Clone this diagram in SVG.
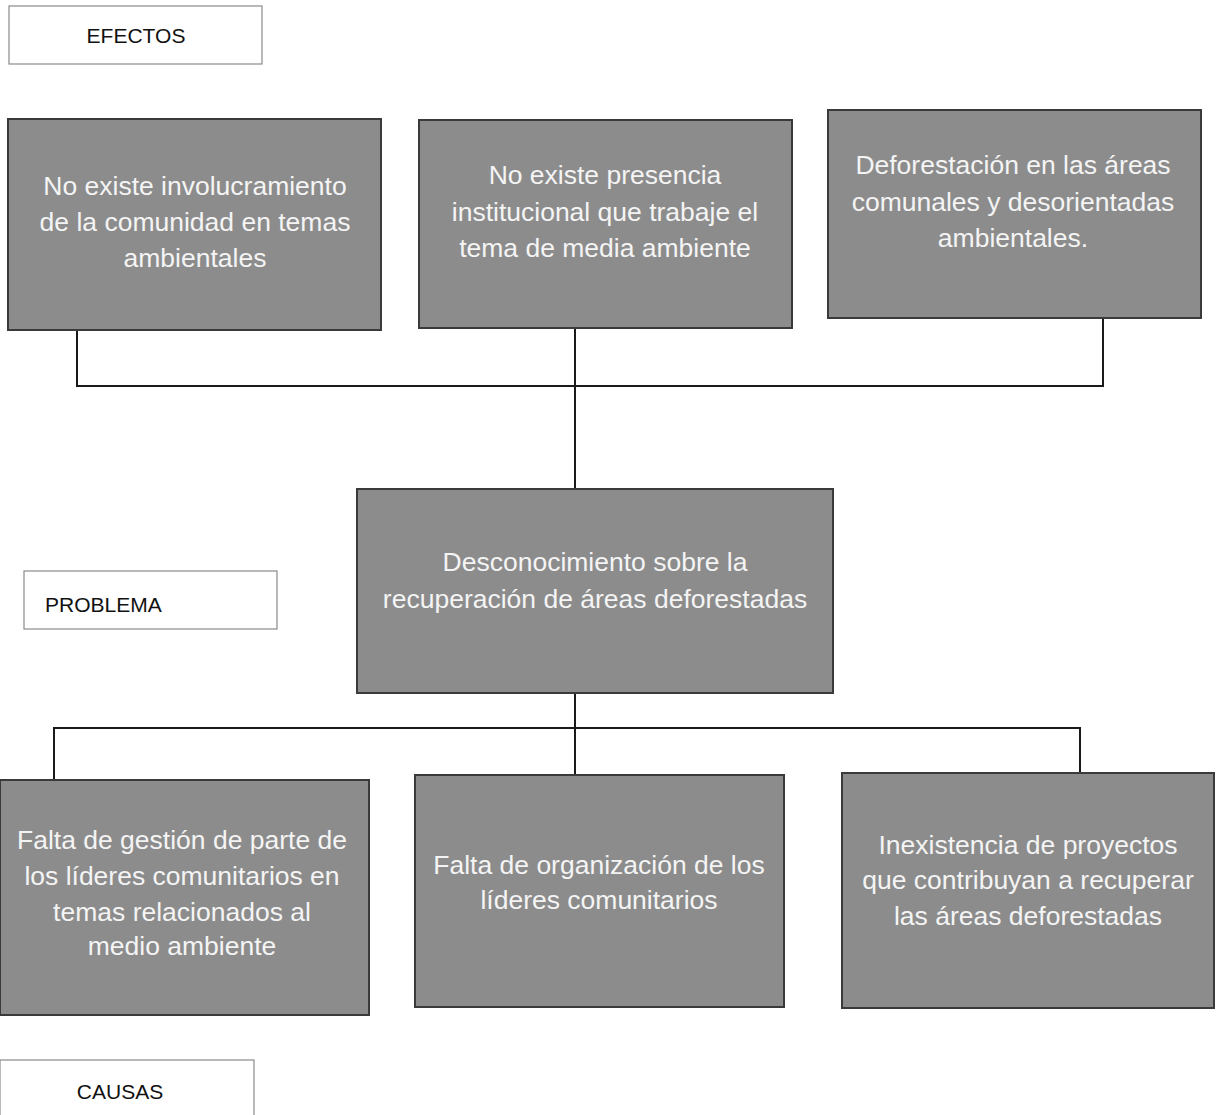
<svg xmlns="http://www.w3.org/2000/svg" width="1222" height="1115" viewBox="0 0 1222 1115">
<style>
.lbl{fill:#ffffff;stroke:#8a8a8a;stroke-width:1.2}
.lt{font-family:"Liberation Sans",Arial,sans-serif;font-size:21px;fill:#111}
.box{fill:#8c8c8c;stroke:#3a3a3a;stroke-width:2}
.bt{font-family:"Liberation Sans",Arial,sans-serif;font-size:26.5px;fill:#f4f4f4;text-anchor:middle}
.con{fill:none;stroke:#1a1a1a;stroke-width:2}
</style>
<rect width="1222" height="1115" fill="#ffffff"/>
<g id="label-efectos"><rect class="lbl" x="9" y="6" width="253" height="58"/><text class="lt" x="136" y="43" text-anchor="middle">EFECTOS</text></g>
<g id="label-problema"><rect class="lbl" x="24" y="571" width="253" height="58"/><text class="lt" x="45" y="612">PROBLEMA</text></g>
<g id="label-causas"><rect class="lbl" x="0" y="1060" width="254" height="60"/><text class="lt" x="120" y="1099" text-anchor="middle">CAUSAS</text></g>
<g id="connectors">
<path class="con" d="M77,330 V386 H1103 V318"/>
<path class="con" d="M575,328 V490"/>
<path class="con" d="M575,693 V775"/>
<path class="con" d="M54,783 V728 H1080 V775"/>
</g>
<g id="efecto1"><rect class="box" x="8" y="119" width="373" height="211"/>
<text class="bt" x="195" y="195">No existe involucramiento</text>
<text class="bt" x="195" y="231">de la comunidad en temas</text>
<text class="bt" x="195" y="267">ambientales</text></g>
<g id="efecto2"><rect class="box" x="419" y="120" width="373" height="208"/>
<text class="bt" x="605" y="184">No existe presencia</text>
<text class="bt" x="605" y="221">institucional que trabaje el</text>
<text class="bt" x="605" y="257">tema de media ambiente</text></g>
<g id="efecto3"><rect class="box" x="828" y="110" width="373" height="208"/>
<text class="bt" x="1013" y="174">Deforestación en las áreas</text>
<text class="bt" x="1013" y="211">comunales y desorientadas</text>
<text class="bt" x="1013" y="247">ambientales.</text></g>
<g id="problema"><rect class="box" x="357" y="489" width="476" height="204"/>
<text class="bt" x="595" y="571">Desconocimiento sobre la</text>
<text class="bt" x="595" y="608">recuperación de áreas deforestadas</text></g>
<g id="causa1"><rect class="box" x="0" y="780" width="369" height="235"/>
<text class="bt" x="182" y="849">Falta de gestión de parte de</text>
<text class="bt" x="182" y="885">los líderes comunitarios en</text>
<text class="bt" x="182" y="921">temas relacionados al</text>
<text class="bt" x="182" y="955">medio ambiente</text></g>
<g id="causa2"><rect class="box" x="415" y="775" width="369" height="232"/>
<text class="bt" x="599" y="874">Falta de organización de los</text>
<text class="bt" x="599" y="909">líderes comunitarios</text></g>
<g id="causa3"><rect class="box" x="842" y="773" width="372" height="235"/>
<text class="bt" x="1028" y="854">Inexistencia de proyectos</text>
<text class="bt" x="1028" y="889">que contribuyan a recuperar</text>
<text class="bt" x="1028" y="925">las áreas deforestadas</text></g>
</svg>
